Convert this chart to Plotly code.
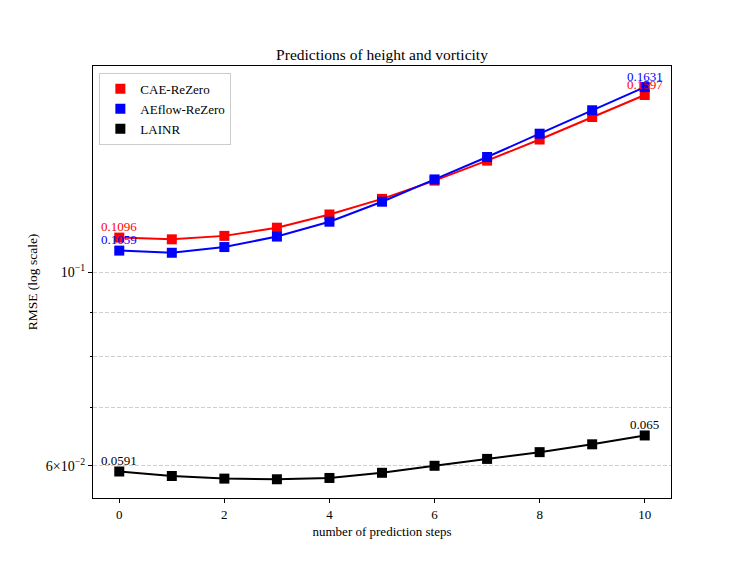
import numpy as np
import plotly.graph_objects as go

# data
steps = list(range(11))
cae_rezero = [0.1096, 0.1091, 0.1101, 0.1125, 0.1165, 0.1214, 0.1274, 0.1343, 0.1420, 0.1507, 0.1597]
aeflow_rezero = [0.1059, 0.1053, 0.1069, 0.1099, 0.1143, 0.1205, 0.1278, 0.1356, 0.1442, 0.1534, 0.1631]
lainr = [0.0591, 0.0584, 0.0580, 0.0579, 0.0581, 0.0589, 0.0600, 0.0611, 0.0622, 0.0635, 0.0650]

series_names = ["CAE-ReZero", "AEflow-ReZero", "LAINR"]
series_values = [cae_rezero, aeflow_rezero, lainr]
series_colors = ["red", "blue", "black"]

FONT = "Liberation Serif"
GRID = "#cfcfcf"

fig = go.Figure()

# lines (no legend entry) and square markers (legend entry)
for name, vals, col in zip(series_names, series_values, series_colors):
    fig.add_trace(go.Scatter(x=steps, y=vals, mode="lines",
                             line=dict(color=col, width=2),
                             showlegend=False, hoverinfo="skip"))
for name, vals, col in zip(series_names, series_values, series_colors):
    fig.add_trace(go.Scatter(x=steps, y=vals, mode="markers", name=name,
                             marker=dict(symbol="square", size=10, color=col)))

# value labels at first and last step (red drawn last so it sits on top)
annotations = []
for k in (2, 1, 0):
    vals, col = series_values[k], series_colors[k]
    for i in (0, len(steps) - 1):
        annotations.append(dict(
            x=steps[i], y=np.log10(vals[i]), xref="x", yref="y",
            text=f"{vals[i]:g}", showarrow=False,
            xanchor="center", yanchor="middle", yshift=11,
            font=dict(family=FONT, size=13, color=col)
        ))

# page body adds ~8px offset, so the figure is a bit smaller than the window
fig.update_layout(
    width=739, height=553,
    paper_bgcolor="white", plot_bgcolor="white",
    margin=dict(l=85, r=76, t=58, b=63),
    font=dict(family=FONT, size=13, color="black"),
    title=dict(text="Predictions of height and vorticity",
               x=(85 + 663) / 2 / 739, xanchor="center", y=1 - 47 / 553, yanchor="middle",
               yref="container", font=dict(family=FONT, size=15.5, color="black")),
    legend=dict(x=0.011, y=0.984, xanchor="left", yanchor="top",
                bgcolor="white", bordercolor="#cccccc", borderwidth=1,
                font=dict(family=FONT, size=13), tracegroupgap=0),
    annotations=annotations,
    showlegend=True,
)

fig.update_xaxes(
    range=[-0.5, 10.5], tickvals=[0, 2, 4, 6, 8, 10],
    ticks="outside", ticklen=4, tickcolor="black",
    showline=True, linecolor="black", linewidth=1, mirror=True,
    showgrid=False, zeroline=False,
    title=dict(text="number of prediction steps", font=dict(family=FONT, size=13), standoff=6),
)

fig.update_yaxes(
    type="log", range=[-1.2588, -0.7634],
    tickvals=[0.06, 0.1], ticktext=["6×10<sup>−2</sup>", "10<sup>−1</sup>"],
    tickfont=dict(family=FONT, size=14),
    ticks="outside", ticklen=4, tickcolor="black",
    showline=True, linecolor="black", linewidth=1, mirror=True,
    showgrid=True, gridcolor=GRID, griddash="4px,2px", gridwidth=1,
    minor=dict(tickvals=[0.07, 0.08, 0.09], ticks="outside", ticklen=2.5,
               tickcolor="black", showgrid=True, gridcolor=GRID,
               griddash="4px,2px", gridwidth=1),
    zeroline=False,
    title=dict(text="RMSE (log scale)", font=dict(family=FONT, size=13.5), standoff=5),
)

fig.write_html("out.html")
